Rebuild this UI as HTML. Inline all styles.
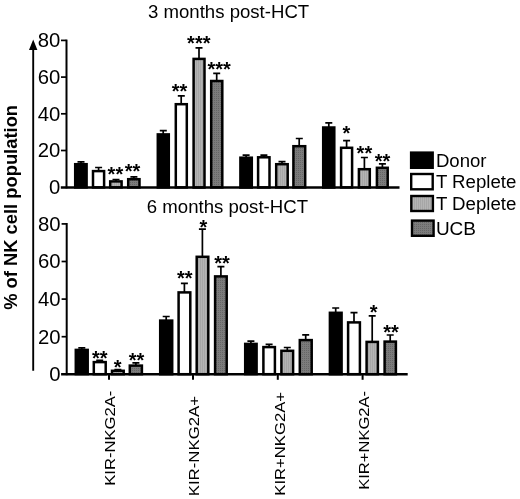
<!DOCTYPE html>
<html><head><meta charset="utf-8"><title>NK cell population</title>
<style>
html,body{margin:0;padding:0;background:#fff;}
body{width:520px;height:499px;overflow:hidden;}
svg{display:block;filter:blur(0.4px);font-family:"Liberation Sans",Arial,sans-serif;fill:#000;}
</style></head><body>
<svg width="520" height="499" viewBox="0 0 520 499">
<defs>
<pattern id="lg" width="2" height="2" patternUnits="userSpaceOnUse"><rect width="2" height="2" fill="#b4b4b4"/><rect width="1" height="2" fill="#a6a6a6"/></pattern>
<pattern id="dg" width="2" height="2" patternUnits="userSpaceOnUse"><rect width="2" height="2" fill="#7c7c7c"/><rect width="1" height="1" fill="#666"/></pattern>
</defs>
<rect width="520" height="499" fill="#fff"/>
<path d="M81.0 164.0V161.9M77.5 161.9H84.5" stroke="#000" stroke-width="1.7" fill="none"/>
<rect x="75.2" y="164.2" width="11.4" height="23.2" fill="#000" stroke="#000" stroke-width="2.5"/>
<path d="M98.6 170.8V167.5M95.1 167.5H102.1" stroke="#000" stroke-width="1.7" fill="none"/>
<rect x="93.0" y="171.1" width="11.1" height="16.3" fill="#fff" stroke="#000" stroke-width="2.5"/>
<path d="M116.0 181.2V179.5M112.5 179.5H119.5" stroke="#000" stroke-width="1.7" fill="none"/>
<rect x="110.2" y="181.4" width="11.4" height="6.0" fill="url(#lg)" stroke="#000" stroke-width="2.5"/>
<path d="M133.9 179.0V176.8M130.4 176.8H137.4" stroke="#000" stroke-width="1.7" fill="none"/>
<rect x="128.2" y="179.2" width="11.3" height="8.2" fill="url(#dg)" stroke="#000" stroke-width="2.5"/>
<path d="M163.2 134.2V130.6M159.8 130.6H166.8" stroke="#000" stroke-width="1.7" fill="none"/>
<rect x="157.8" y="134.4" width="11.0" height="53.0" fill="#000" stroke="#000" stroke-width="2.5"/>
<path d="M181.2 104.0V95.8M177.8 95.8H184.8" stroke="#000" stroke-width="1.7" fill="none"/>
<rect x="175.8" y="104.2" width="11.0" height="83.2" fill="#fff" stroke="#000" stroke-width="2.5"/>
<path d="M199.0 58.6V47.8M195.5 47.8H202.5" stroke="#000" stroke-width="1.7" fill="none"/>
<rect x="193.6" y="58.9" width="10.9" height="128.6" fill="url(#lg)" stroke="#000" stroke-width="2.5"/>
<path d="M216.7 80.8V73.4M213.2 73.4H220.2" stroke="#000" stroke-width="1.7" fill="none"/>
<rect x="211.2" y="81.0" width="11.1" height="106.4" fill="url(#dg)" stroke="#000" stroke-width="2.5"/>
<path d="M246.1 157.4V155.2M242.6 155.2H249.6" stroke="#000" stroke-width="1.7" fill="none"/>
<rect x="240.4" y="157.7" width="11.4" height="29.8" fill="#000" stroke="#000" stroke-width="2.5"/>
<path d="M263.9 157.1V155.1M260.4 155.1H267.4" stroke="#000" stroke-width="1.7" fill="none"/>
<rect x="258.1" y="157.3" width="11.4" height="30.1" fill="#fff" stroke="#000" stroke-width="2.5"/>
<path d="M282.0 163.9V161.7M278.5 161.7H285.5" stroke="#000" stroke-width="1.7" fill="none"/>
<rect x="276.2" y="164.2" width="11.5" height="23.2" fill="url(#lg)" stroke="#000" stroke-width="2.5"/>
<path d="M299.2 145.9V138.5M295.8 138.5H302.8" stroke="#000" stroke-width="1.7" fill="none"/>
<rect x="293.4" y="146.2" width="11.8" height="41.2" fill="url(#dg)" stroke="#000" stroke-width="2.5"/>
<path d="M328.8 127.2V122.8M325.3 122.8H332.3" stroke="#000" stroke-width="1.7" fill="none"/>
<rect x="323.2" y="127.5" width="11.1" height="60.0" fill="#000" stroke="#000" stroke-width="2.5"/>
<path d="M346.6 147.6V140.6M343.1 140.6H350.1" stroke="#000" stroke-width="1.7" fill="none"/>
<rect x="341.1" y="147.8" width="11.0" height="39.6" fill="#fff" stroke="#000" stroke-width="2.5"/>
<path d="M364.4 168.9V157.5M360.9 157.5H367.9" stroke="#000" stroke-width="1.7" fill="none"/>
<rect x="358.9" y="169.2" width="10.9" height="18.2" fill="url(#lg)" stroke="#000" stroke-width="2.5"/>
<path d="M382.4 167.6V163.8M378.9 163.8H385.9" stroke="#000" stroke-width="1.7" fill="none"/>
<rect x="376.9" y="167.8" width="10.8" height="19.6" fill="url(#dg)" stroke="#000" stroke-width="2.5"/>
<path d="M81.8 349.7V347.8M78.3 347.8H85.3" stroke="#000" stroke-width="1.7" fill="none"/>
<rect x="75.8" y="349.9" width="11.9" height="24.2" fill="#000" stroke="#000" stroke-width="2.5"/>
<path d="M99.7 361.8V360.4M96.2 360.4H103.2" stroke="#000" stroke-width="1.7" fill="none"/>
<rect x="93.8" y="362.1" width="11.9" height="12.1" fill="#fff" stroke="#000" stroke-width="2.5"/>
<path d="M117.9 370.5V369.5M114.4 369.5H121.4" stroke="#000" stroke-width="1.7" fill="none"/>
<rect x="112.0" y="370.8" width="11.7" height="3.4" fill="url(#lg)" stroke="#000" stroke-width="2.5"/>
<path d="M135.9 365.3V362.9M132.4 362.9H139.4" stroke="#000" stroke-width="1.7" fill="none"/>
<rect x="129.8" y="365.6" width="12.1" height="8.6" fill="url(#dg)" stroke="#000" stroke-width="2.5"/>
<path d="M166.2 320.4V316.5M162.7 316.5H169.7" stroke="#000" stroke-width="1.7" fill="none"/>
<rect x="160.2" y="320.6" width="12.0" height="53.6" fill="#000" stroke="#000" stroke-width="2.5"/>
<path d="M184.4 292.2V283.3M180.9 283.3H187.9" stroke="#000" stroke-width="1.7" fill="none"/>
<rect x="178.6" y="292.4" width="11.7" height="81.8" fill="#fff" stroke="#000" stroke-width="2.5"/>
<path d="M202.4 256.5V229.1M198.9 229.1H205.9" stroke="#000" stroke-width="1.7" fill="none"/>
<rect x="196.7" y="256.8" width="11.6" height="117.4" fill="url(#lg)" stroke="#000" stroke-width="2.5"/>
<path d="M220.9 276.1V266.7M217.4 266.7H224.4" stroke="#000" stroke-width="1.7" fill="none"/>
<rect x="215.1" y="276.4" width="11.6" height="97.8" fill="url(#dg)" stroke="#000" stroke-width="2.5"/>
<path d="M250.9 343.7V341.1M247.4 341.1H254.4" stroke="#000" stroke-width="1.7" fill="none"/>
<rect x="245.2" y="343.9" width="11.4" height="30.2" fill="#000" stroke="#000" stroke-width="2.5"/>
<path d="M269.1 346.9V344.3M265.6 344.3H272.6" stroke="#000" stroke-width="1.7" fill="none"/>
<rect x="263.4" y="347.1" width="11.5" height="27.1" fill="#fff" stroke="#000" stroke-width="2.5"/>
<path d="M287.3 350.5V347.5M283.8 347.5H290.8" stroke="#000" stroke-width="1.7" fill="none"/>
<rect x="281.4" y="350.8" width="11.7" height="23.4" fill="url(#lg)" stroke="#000" stroke-width="2.5"/>
<path d="M305.7 339.8V334.8M302.2 334.8H309.2" stroke="#000" stroke-width="1.7" fill="none"/>
<rect x="299.8" y="340.1" width="11.9" height="34.1" fill="url(#dg)" stroke="#000" stroke-width="2.5"/>
<path d="M335.7 312.5V308.0M332.2 308.0H339.2" stroke="#000" stroke-width="1.7" fill="none"/>
<rect x="329.9" y="312.8" width="11.7" height="61.4" fill="#000" stroke="#000" stroke-width="2.5"/>
<path d="M354.0 322.2V312.6M350.5 312.6H357.5" stroke="#000" stroke-width="1.7" fill="none"/>
<rect x="348.1" y="322.4" width="11.8" height="51.8" fill="#fff" stroke="#000" stroke-width="2.5"/>
<path d="M372.2 341.6V315.9M368.7 315.9H375.7" stroke="#000" stroke-width="1.7" fill="none"/>
<rect x="366.6" y="341.9" width="11.3" height="32.3" fill="url(#lg)" stroke="#000" stroke-width="2.5"/>
<path d="M390.2 341.3V335.0M386.7 335.0H393.7" stroke="#000" stroke-width="1.7" fill="none"/>
<rect x="384.6" y="341.6" width="11.3" height="32.6" fill="url(#dg)" stroke="#000" stroke-width="2.5"/>
<path d="M66.5 39.6V188.4" stroke="#000" stroke-width="2" fill="none"/><path d="M60.8 187.45H399.5" stroke="#000" stroke-width="2.4" fill="none"/>
<path d="M66.7 223.0V375.2" stroke="#000" stroke-width="2" fill="none"/><path d="M61.1 374.25H407.7" stroke="#000" stroke-width="2.3" fill="none"/>
<path d="M61 40.4H66.5" stroke="#000" stroke-width="1.7"/>
<path d="M61 77.1H66.5" stroke="#000" stroke-width="1.7"/>
<path d="M61 113.8H66.5" stroke="#000" stroke-width="1.7"/>
<path d="M61 150.5H66.5" stroke="#000" stroke-width="1.7"/>
<path d="M61.6 223.9H66.6" stroke="#000" stroke-width="1.7"/>
<path d="M61.6 261.5H66.6" stroke="#000" stroke-width="1.7"/>
<path d="M61.6 299.1H66.6" stroke="#000" stroke-width="1.7"/>
<path d="M61.6 336.7H66.6" stroke="#000" stroke-width="1.7"/>
<path d="M109 374V379.8" stroke="#000" stroke-width="2"/>
<path d="M193 374V379.8" stroke="#000" stroke-width="2"/>
<path d="M277.8 374V379.8" stroke="#000" stroke-width="2"/>
<path d="M362.6 374V379.8" stroke="#000" stroke-width="2"/>
<path d="M33.2 49V370.7" stroke="#000" stroke-width="1.9"/>
<path d="M33.2 39.5L29 50H37.4Z" fill="#000"/>
<text x="60.4" y="47.2" font-size="19.5" text-anchor="end" textLength="22.6" lengthAdjust="spacingAndGlyphs">80</text>
<text x="60.4" y="83.9" font-size="19.5" text-anchor="end" textLength="22.6" lengthAdjust="spacingAndGlyphs">60</text>
<text x="60.4" y="120.6" font-size="19.5" text-anchor="end" textLength="22.6" lengthAdjust="spacingAndGlyphs">40</text>
<text x="60.4" y="157.3" font-size="19.5" text-anchor="end" textLength="22.6" lengthAdjust="spacingAndGlyphs">20</text>
<text x="60.4" y="194.0" font-size="19.5" text-anchor="end" textLength="11.3" lengthAdjust="spacingAndGlyphs">0</text>
<text x="60.6" y="230.7" font-size="19.5" text-anchor="end" textLength="22.6" lengthAdjust="spacingAndGlyphs">80</text>
<text x="60.6" y="268.3" font-size="19.5" text-anchor="end" textLength="22.6" lengthAdjust="spacingAndGlyphs">60</text>
<text x="60.6" y="305.9" font-size="19.5" text-anchor="end" textLength="22.6" lengthAdjust="spacingAndGlyphs">40</text>
<text x="60.6" y="343.5" font-size="19.5" text-anchor="end" textLength="22.6" lengthAdjust="spacingAndGlyphs">20</text>
<text x="60.6" y="381.1" font-size="19.5" text-anchor="end" textLength="11.3" lengthAdjust="spacingAndGlyphs">0</text>
<text x="148.0" y="18" font-size="18" text-anchor="start" textLength="161.2" lengthAdjust="spacingAndGlyphs">3 months post-HCT</text>
<text x="146.8" y="212.6" font-size="18" text-anchor="start" textLength="161.2" lengthAdjust="spacingAndGlyphs">6 months post-HCT</text>
<rect x="411.1" y="152.6" width="21.6" height="15.2" fill="#000" stroke="#000" stroke-width="2.4"/>
<text x="435.9" y="166.6" font-size="18" text-anchor="start" textLength="50.6" lengthAdjust="spacingAndGlyphs">Donor</text>
<rect x="411.2" y="174.0" width="21.5" height="15.3" fill="#fff" stroke="#000" stroke-width="2.4"/>
<text x="435.9" y="187.6" font-size="18" text-anchor="start" textLength="80.5" lengthAdjust="spacingAndGlyphs">T Replete</text>
<rect x="411.3" y="196.0" width="21.6" height="15.0" fill="url(#lg)" stroke="#000" stroke-width="2.4"/>
<text x="435.9" y="209.8" font-size="18" text-anchor="start" textLength="80.5" lengthAdjust="spacingAndGlyphs">T Deplete</text>
<rect x="412.0" y="220.6" width="21.6" height="15.2" fill="url(#dg)" stroke="#000" stroke-width="2.4"/>
<text x="435.9" y="234.7" font-size="18" text-anchor="start" textLength="40.1" lengthAdjust="spacingAndGlyphs">UCB</text>
<text transform="translate(16.8 309.8) rotate(-90)" font-size="18.35" font-weight="bold">% of NK cell population</text>
<text transform="translate(114.6 485.7) rotate(-90)" font-size="15.2" textLength="95.0" lengthAdjust="spacingAndGlyphs">KIR-NKG2A-</text>
<text transform="translate(198.6 496.3) rotate(-90)" font-size="15.2" textLength="100.4" lengthAdjust="spacingAndGlyphs">KIR-NKG2A+</text>
<text transform="translate(284.6 495.7) rotate(-90)" font-size="15.2" textLength="103.7" lengthAdjust="spacingAndGlyphs">KIR+NKG2A+</text>
<text transform="translate(368.6 489.8) rotate(-90)" font-size="15.2" textLength="98.9" lengthAdjust="spacingAndGlyphs">KIR+NKG2A-</text>
<text x="115.4" y="181.2" font-size="20" text-anchor="middle" font-weight="bold">**</text>
<text x="132.6" y="178.0" font-size="20" text-anchor="middle" font-weight="bold">**</text>
<text x="179.6" y="97.6" font-size="20" text-anchor="middle" font-weight="bold">**</text>
<text x="198.8" y="49.9" font-size="20" text-anchor="middle" font-weight="bold">***</text>
<text x="219.1" y="76.2" font-size="20" text-anchor="middle" font-weight="bold">***</text>
<text x="346.4" y="139.5" font-size="20" text-anchor="middle" font-weight="bold">*</text>
<text x="364.4" y="160.4" font-size="20" text-anchor="middle" font-weight="bold">**</text>
<text x="382.5" y="167.8" font-size="20" text-anchor="middle" font-weight="bold">**</text>
<text x="99.7" y="364.8" font-size="20" text-anchor="middle" font-weight="bold">**</text>
<text x="117.7" y="373.8" font-size="20" text-anchor="middle" font-weight="bold">*</text>
<text x="136.6" y="366.7" font-size="20" text-anchor="middle" font-weight="bold">**</text>
<text x="184.7" y="284.6" font-size="20" text-anchor="middle" font-weight="bold">**</text>
<text x="203.5" y="233.8" font-size="20" text-anchor="middle" font-weight="bold">*</text>
<text x="222" y="269.7" font-size="20" text-anchor="middle" font-weight="bold">**</text>
<text x="373.6" y="319.1" font-size="20" text-anchor="middle" font-weight="bold">*</text>
<text x="391" y="339.0" font-size="20" text-anchor="middle" font-weight="bold">**</text>
</svg>
</body></html>
